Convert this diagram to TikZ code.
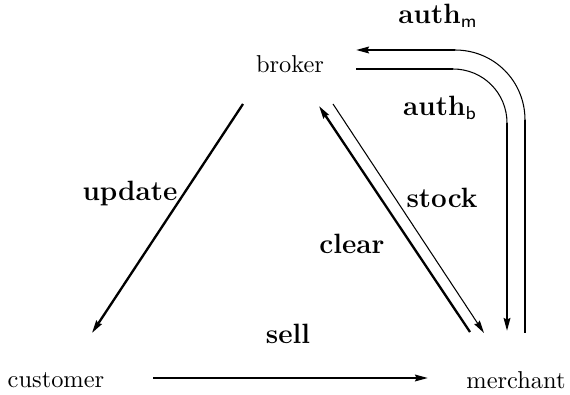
\documentclass[tikz,border=0pt]{standalone}
\usetikzlibrary{arrows.meta}
\begin{document}
\begin{tikzpicture}[x=0.43pt,y=-0.43pt,
  thickline/.style={line width=1pt},
  thinline/.style={line width=0.45pt},
  tip/.style={-{Stealth[length=5.5pt,width=2.8pt,inset=0.6pt]}},
  lbl/.style={font=\large\bfseries, inner sep=0pt},
  place/.style={inner sep=0pt, font=\fontsize{10.5}{12}\selectfont}]
\useasboundingbox (0,0) rectangle (570,395);
% places
\node[place] (broker) at (290,64) {broker};
\node[place] (customer) at (56,380) {customer};
\node[place] (merchant) at (516,380) {merchant};
% endpoints
\coordinate (u1) at (243,104);
\coordinate (u2) at (92,333);
\coordinate (c1) at (470,332);
\coordinate (c2) at (319,106);
\coordinate (s1) at (333,104);
\coordinate (s2) at (484,333);
\coordinate (se1) at (153,378);
\coordinate (se2) at (428,378);
\coordinate (m1) at (525,333);
\coordinate (m2) at (525,120);
\coordinate (m3) at (455,50);
\coordinate (m4) at (356,50);
\coordinate (b1) at (356,69);
\coordinate (b2) at (453,69);
\coordinate (b3) at (507,123);
\coordinate (b4) at (507,331);
% connectors
\draw[thickline,tip] (u1) -- (u2);
\draw[thickline,tip] (c1) -- (c2);
\draw[thinline,tip] (s1) -- (s2);
\draw[thickline,tip] (se1) -- (se2);
\draw[thickline] (m1) -- (m2);
\draw[thinline] (m2) .. controls (525,81) and (494,50) .. (m3);
\draw[thickline,tip] (m3) -- (m4);
\draw[thickline] (b1) -- (b2);
\draw[thinline] (b2) .. controls (483,69) and (507,93) .. (b3);
\draw[thickline,tip] (b3) -- (b4);
% labels
\node[lbl] (lm) at (438,16) {auth$_{\mathsf{m}}$};
\node[lbl] (lb) at (440,108) {auth$_{\mathsf{b}}$};
\node[lbl] (lu) at (130,194) {update};
\node[lbl] (ls) at (442,198) {stock};
\node[lbl] (lc) at (352,244) {clear};
\node[lbl] (lse) at (288,334) {sell};
\end{tikzpicture}
\end{document}
